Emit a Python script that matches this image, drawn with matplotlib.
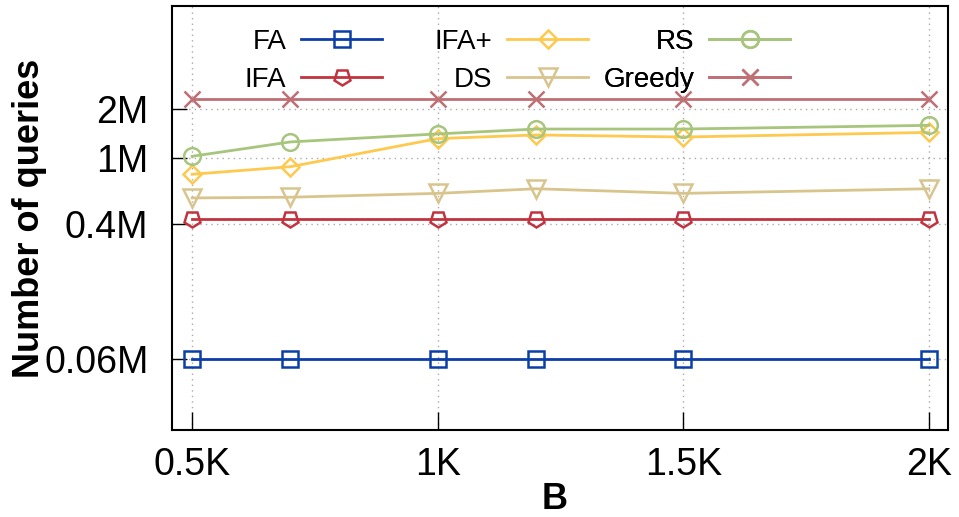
import matplotlib
matplotlib.use('Agg')
import matplotlib.pyplot as plt
from matplotlib.markers import MarkerStyle
from matplotlib.transforms import Affine2D

plt.rcParams['font.family'] = ['Liberation Sans', 'DejaVu Sans']

# data (number of queries, in millions) vs B (in K)
B = [0.5, 0.7, 1.0, 1.2, 1.5, 2.0]
fa = [0.06, 0.06, 0.06, 0.06, 0.06, 0.06]
ifa = [0.426, 0.426, 0.426, 0.426, 0.426, 0.426]
ifa_plus = [0.80, 0.89, 1.32, 1.39, 1.35, 1.44]
ds = [0.574, 0.58, 0.612, 0.653, 0.612, 0.653]
rs = [1.03, 1.26, 1.41, 1.51, 1.51, 1.59]
greedy = [2.3, 2.3, 2.3, 2.3, 2.3, 2.3]

x_ticks = [0.5, 1.0, 1.5, 2.0]
x_labels = ['0.5K', '1K', '1.5K', '2K']
y_ticks = [0.06, 0.4, 1, 2]
y_labels = ['0.06M', '0.4M', '1M', '2M']

fig = plt.figure(figsize=(9.59, 5.17), dpi=100)
ax = fig.add_axes([172/959, 1 - 430/517, 776/959, 424/517])

pent_down = MarkerStyle('p', transform=Affine2D().rotate_deg(180))

series = [
    ('FA', fa, '#0b3ea6', 's', 12),
    ('IFA', ifa, '#c1343f', pent_down, 12),
    ('IFA+', ifa_plus, '#fdc94f', 'D', 9),
    ('DS', ds, '#d8c58e', 'v', 13),
    ('RS', rs, '#a7c57c', 'o', 12),
    ('Greedy', greedy, '#bf7074', 'x', 12),
]

handles = {}
for name, vals, col, mk, ms in series:
    ln, = ax.plot(B, vals, color=col, lw=2, marker=mk, markersize=ms,
                  markerfacecolor='none', markeredgecolor=col, markeredgewidth=1.8,
                  label=name, clip_on=False, zorder=3)
    handles[name] = ln

ax.set_yscale('log')
ax.set_xlim(0.459, 2.039)
ax.set_ylim(0.0221, 8.49)

ax.set_xticks(x_ticks)
ax.set_xticklabels(x_labels)
ax.set_yticks(y_ticks)
ax.set_yticklabels(y_labels)
ax.minorticks_off()
ax.tick_params(axis='x', direction='in', length=13, width=1, labelsize=27, pad=12)
ax.tick_params(axis='y', direction='in', length=11, width=1, labelsize=27, pad=17)

ax.grid(True, linestyle=(0, (1, 3)), color='#aaaaaa', linewidth=1)
for sp in ax.spines.values():
    sp.set_linewidth(1.5)

ax.set_ylabel('Number of queries', fontsize=26, fontweight='bold')
ax.yaxis.set_label_coords(-0.184, 0.5)
ax.yaxis.label.set_va('center')
ax.set_xlabel('B', fontsize=26, fontweight='bold')
ax.xaxis.set_label_coords(0.4936, -0.163)
ax.xaxis.label.set_va('center')

# legend, gnuplot style: three columns, label then sample
cols = [(['FA', 'IFA'], 382), (['IFA+', 'DS'], 588), (['RS', 'Greedy'], 790)]
for names, xr in cols:
    leg = ax.legend([handles[n] for n in names], names, loc='upper right',
                    bbox_to_anchor=(xr/959, 1 - 29/517), bbox_transform=fig.transFigure,
                    frameon=False, markerfirst=False, fontsize=20, handlelength=2.9,
                    handletextpad=0.55, labelspacing=0.42, borderpad=0, borderaxespad=0)
    ax.add_artist(leg)

fig.savefig('out.png', dpi=100)
